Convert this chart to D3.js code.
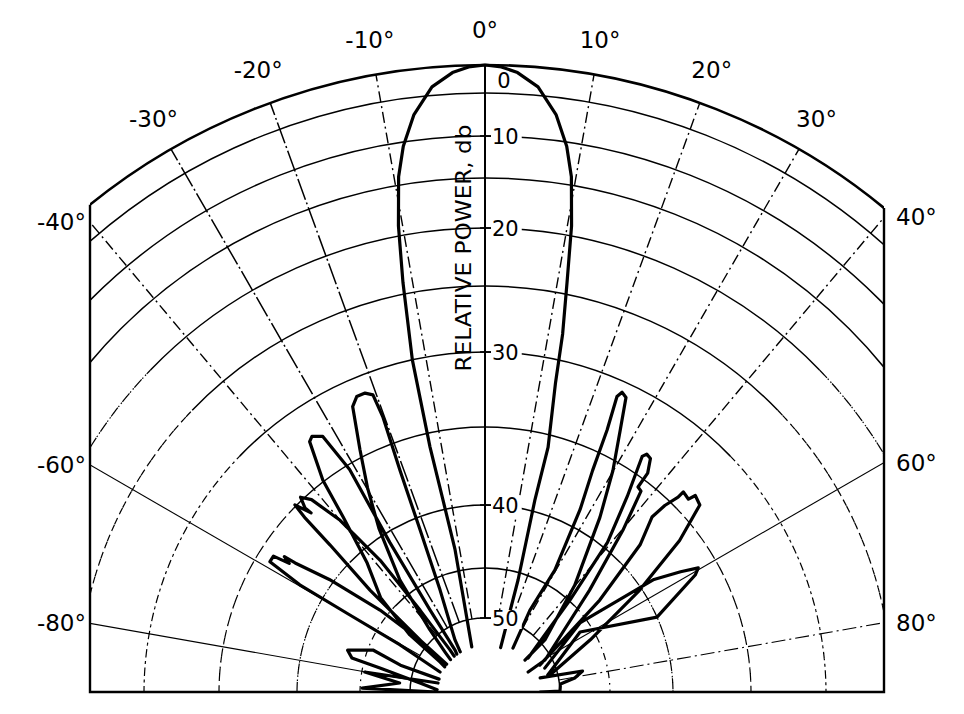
<!DOCTYPE html>
<html><head><meta charset="utf-8">
<script src="https://cdn.jsdelivr.net/npm/d3@7"></script>
<style>body{margin:0;background:#fff}svg{display:block}</style>
</head><body>
<script>
// ---- data ----
const dbRings = [0,5,10,15,20,25,30,35,40,45,50];
const dbLabels = [0,10,20,30,40,50];
const spokeAngles = [-80,-60,-40,-30,-20,-10,0,10,20,30,40,60,80];
const angleLabels = [-80,-60,-40,-30,-20,-10,0,10,20,30,40,60,80];
// traced pattern: angle (deg) and relative power (db); null separates the lobe traces
const patAngle = [
 // main lobe
 -16,-12.6,-11.8,-12.3,-12.6,-12.3,-11.3,-10.5,-9.5,-8.5,-7,-5,-3,-1.5,0,1.5,3,5,7,8.5,9.5,10.5,11.3,12.2,12.8,14.4,14.5,16.3,19, null,
 // left side lobes
 -31,-29.5,-23.6,-21.7,-20.9,-20.3,-20.6,-21.8,-23.4,-24.8,-27.2,-29.8,-32.8,-37,-41.1,-44.3,-46, null,
 -36,-34.9,-33.5,-32.3,-31.2,-32.3,-34.0,-34.9,-37.3,-38.9,-42.2,-47.6,-52.3,-55.4,-57, null,
 -40,-39.1,-38.1,-38.3,-40,-41.9,-43.3,-44.2,-44.0,-45.3,-45.8,-46.3,-48.2,-50,-55, null,
 -53,-50.8,-51.7,-53.9,-55.6,-55.8,-56.5,-57.1,-58.6,-59.7,-60,-60.5,-65, null,
 -73.2,-71.8,-69,-72.7,-75.3,-76.6,-81.3,-86, null,
 -78,-80.1,-83.3,-87.7,-89, null,
 // right side lobes
 31.9,28.5,29.6,27.4,25.8,24.9,24.0,24.5,25.5,27.2,29.9,33.2,39.8,48.5,50.5, null,
 50.9,42.4,39.1,35.9,33.6,34.1,35.2,36.5,36.6,37.7,40.3,45.5,61.2,64, null,
 63,51,46.3,43.5,43.8,44.6,44.6,46.4,46.8,48.8,51.9,56.4,63.2,74.5, null,
 67.4,53.6,56.1,58.2,59.6,60.7,66.2,57.3,74, null,
 74.7,77.3,80.5,83.2,88.5,89
];
const patDb = [
 55,47,43.3,39.2,35.9,30,24,19,14,10.5,7,3.5,1.2,0.3,0,0.3,1.2,3.5,7,10.5,14,19,24,28,31.5,35.8,39.3,45.7,55, null,
 55,52.6,46.3,41,36.8,33.1,31.5,31.2,31.2,31.7,34.5,36.9,39.5,43.7,49.1,53.3,55, null,
 55,54.2,47.5,40.8,35.3,32.5,32.1,32.3,34.9,37.6,41.0,43.7,48.0,53.8,55, null,
 55,53.6,47,41.5,37.6,35.4,34.8,35.5,36.0,34.9,36,38.3,42.7,47.7,54.9, null,
 55,49.1,44.3,39.7,37.3,36.5,37,35.9,35.9,38.3,42.5,47.7,54.7, null,
 55,48.6,45.5,43.5,44,46.7,51.7,55, null,
 55,45.3,48.9,45.2,55, null,
 54.1,48.1,43.7,38.8,36.2,33.4,31.1,30.7,30.9,33.0,35.6,38.6,43.8,49.5,54.3, null,
 53.6,44.9,39.6,36.5,33.8,33.5,33.6,34.5,35.6,35.7,38.4,43.3,51.2,55, null,
 52.5,43.2,38.3,36.5,35.4,34.4,33.9,34.0,33.5,33.7,36.2,40.2,45.7,51.4, null,
 51.9,45.7,39.0,37.3,36.2,36.6,40.0,46.2,51.8, null,
 53.3,47.5,48.4,49.9,50,53.7
];

// ---- layout ----
const W = 964, H = 714;
const cx = 485, cy = 693;
const frameL = 90, frameR = 884, frameB = 692;
const r = d3.scaleLinear()
  .domain([0,5,10,15,20,25,30,35,40,45,50,55])
  .range([628,600,557,515,465,407,341,266,188,125,75,48]);
const rad = d => d*Math.PI/180;
const FONT = "'DejaVu Sans', 'Liberation Sans', sans-serif";

const svg = d3.select("body").append("svg").attr("width",W).attr("height",H)
  .style("font-family",FONT);

svg.append("defs").append("clipPath").attr("id","frame")
  .append("rect").attr("x",frameL).attr("y",0).attr("width",frameR-frameL).attr("height",frameB);

const grid = svg.append("g").attr("clip-path","url(#frame)").append("g").attr("transform",`translate(${cx},${cy})`);

// rings
const arcGen = d3.arc();
dbRings.forEach(db => {
  const rr = r(db);
  const sw = db===0 ? 2.6 : 1.5;
  if (db >= 20 && db < 50) {
    grid.append("path").attr("d", arcGen({innerRadius:rr,outerRadius:rr,startAngle:rad(-46),endAngle:rad(46)}))
      .attr("fill","none").attr("stroke","#000").attr("stroke-width",sw);
    [[-90,-46],[46,90]].forEach(([a,b]) => {
      grid.append("path").attr("d", arcGen({innerRadius:rr,outerRadius:rr,startAngle:rad(a),endAngle:rad(b)}))
        .attr("fill","none").attr("stroke","#000").attr("stroke-width",1.2).attr("stroke-dasharray","7,5,1.5,5");
    });
  } else {
    grid.append("path").attr("d", arcGen({innerRadius:rr,outerRadius:rr,startAngle:rad(-90),endAngle:rad(90)}))
      .attr("fill","none").attr("stroke","#000").attr("stroke-width",sw);
  }
});

// spokes
spokeAngles.forEach(a => {
  const ln = grid.append("line")
    .attr("x1", r(50)*Math.sin(rad(a))).attr("y1", -r(50)*Math.cos(rad(a)))
    .attr("x2", r(0)*Math.sin(rad(a))).attr("y2", -r(0)*Math.cos(rad(a)))
    .attr("stroke","#000");
  if (a===0) ln.attr("stroke-width",2);
  else if (Math.abs(a)===60 || a===-80) ln.attr("stroke-width",1.1);
  else if (a===80) ln.attr("stroke-width",1.1).attr("stroke-dasharray","14,4,2,4");
  else if (a===-20 || a===-30) ln.attr("stroke-width",1.5).attr("stroke-dasharray","22,3,2,3");
  else ln.attr("stroke-width",1.4).attr("stroke-dasharray","11,4,2,4");
});

// frame
svg.append("path")
  .attr("d",`M${frameL},${cy - Math.sqrt(r(0)**2-(cx-frameL)**2)}V${frameB}H${frameR}V${cy - Math.sqrt(r(0)**2-(frameR-cx)**2)}`)
  .attr("fill","none").attr("stroke","#000").attr("stroke-width",2.4);

// pattern
const pts = patAngle.map((a,i)=>[a,patDb[i]]);
const radial = d3.lineRadial()
  .defined(d => d[0] !== null && d[1] !== null)
  .angle(d=>rad(d[0])).radius(d=>r(Math.min(d[1],55)));
svg.append("g").attr("clip-path","url(#frame)").append("path")
  .attr("transform",`translate(${cx},${cy})`)
  .attr("d", radial(pts))
  .attr("fill","none").attr("stroke","#000").attr("stroke-width",3.2)
  .attr("stroke-linejoin","round").attr("stroke-linecap","round");

// db labels (on top of grid)
const g = svg.append("g").attr("transform",`translate(${cx},${cy})`);
dbLabels.forEach(db => {
  const y = -r(db);
  if (db === 0) {
    g.append("text").attr("x",19).attr("y",y+23).attr("text-anchor","middle").attr("font-size",21).text(db);
  } else {
    const t = g.append("text").attr("x",7).attr("y",y+8).attr("font-size",21).text(db);
    const bb = t.node().getBBox();
    g.insert("rect","text").attr("x",bb.x-1).attr("y",bb.y+3).attr("width",bb.width+4).attr("height",bb.height-5).attr("fill","#fff");
    g.append("line").attr("x1",-5).attr("x2",6).attr("y1",y).attr("y2",y).attr("stroke","#000").attr("stroke-width",1.6);
  }
});

// axis title
svg.append("text").attr("transform",`translate(471,248) rotate(-90)`)
  .attr("text-anchor","middle").attr("font-size",21).attr("textLength",247).attr("lengthAdjust","spacingAndGlyphs")
  .text("RELATIVE POWER, db");

// angle labels
angleLabels.forEach(a => {
  const txt = (a<0?"-":"") + Math.abs(a) + "°";
  if (Math.abs(a) <= 30) {
    const rr = r(0) + 35;
    svg.append("text").attr("x", cx + rr*Math.sin(rad(a))).attr("y", cy - rr*Math.cos(rad(a)) + 8)
      .attr("text-anchor","middle").attr("font-size",23).text(txt);
  } else {
    const dx = a<0 ? cx-frameL : frameR-cx;
    const yy = cy - dx/Math.tan(rad(Math.abs(a)));
    svg.append("text").attr("x", a<0 ? frameL-4 : frameR+12).attr("y", yy+8)
      .attr("text-anchor", a<0 ? "end" : "start").attr("font-size",23).text(txt);
  }
});
</script>
</body></html>
